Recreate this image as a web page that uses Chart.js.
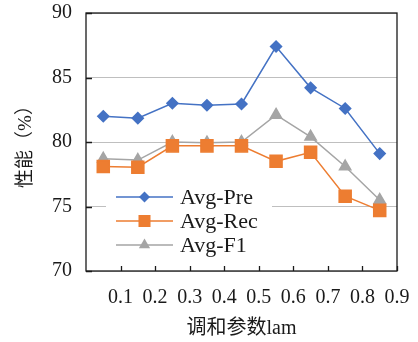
<!DOCTYPE html>
<html>
<head>
<meta charset="utf-8">
<script src="https://cdn.jsdelivr.net/npm/chart.js@4/dist/chart.umd.min.js"></script>
<style>
  html, body { margin: 0; padding: 0; background: #fff; }
  #wrap { width: 418px; height: 342px; }
</style>
</head>
<body>
<div id="wrap"><canvas id="chart" width="418" height="342"></canvas></div>
<script>
const lam = [0.05, 0.15, 0.25, 0.35, 0.45, 0.55, 0.65, 0.75, 0.85];
const avgPre = [82.0, 81.85, 83.0, 82.85, 82.95, 87.4, 84.2, 82.6, 79.1];
const avgRec = [78.1, 78.05, 79.7, 79.7, 79.7, 78.5, 79.2, 75.8, 74.7];
const avgF1 = [78.7, 78.6, 80.0, 79.95, 80.0, 82.1, 80.4, 78.1, 75.5];
const xTickLabels = ['0.1', '0.2', '0.3', '0.4', '0.5', '0.6', '0.7', '0.8', '0.9'];
const yTicks = [70, 75, 80, 85, 90];

const serif = "'Liberation Serif', 'Noto Sans CJK SC', serif";

const toPoints = (vals) => vals.map((v, i) => ({ x: lam[i], y: v }));

// 边框、内向刻度和图例（画在绘图区里）
const frame = {
    id: 'frame',
    afterDraw(chart) {
        const { ctx, chartArea: a, scales } = chart;
        ctx.save();
        ctx.strokeStyle = '#1a1a1a';
        ctx.lineWidth = 1.3;
        ctx.beginPath();
        xTickLabels.forEach((_, i) => {
            const px = Math.round(scales.x.getPixelForValue((i + 1) / 10)) + 0.5;
            ctx.moveTo(px, a.bottom);
            ctx.lineTo(px, a.bottom - 5);
        });
        yTicks.forEach(t => {
            const py = Math.round(scales.y.getPixelForValue(t)) + 0.5;
            ctx.moveTo(a.left, py);
            ctx.lineTo(a.left + 6, py);
        });
        ctx.stroke();
        ctx.strokeRect(a.left, a.top, a.right - a.left, a.bottom - a.top);
        ctx.restore();
    },
    afterDatasetsDraw(chart) {
        const { ctx } = chart;
        ctx.save();
        ctx.fillStyle = '#fff';
        ctx.fillRect(106, 184, 166, 72);
        chart.data.datasets.forEach((ds, i) => {
            const y = 197 + i * 24;
            ctx.strokeStyle = ds.borderColor;
            ctx.lineWidth = ds.borderWidth;
            ctx.beginPath();
            ctx.moveTo(116, y);
            ctx.lineTo(173, y);
            ctx.stroke();
            ctx.fillStyle = ds.pointBackgroundColor;
            ctx.strokeStyle = ds.pointBorderColor;
            Chart.helpers.drawPoint(ctx, {
                pointStyle: ds.pointStyle, radius: ds.pointRadius, rotation: 0, borderWidth: 0
            }, 144.5, y);
            ctx.fillStyle = '#1a1a1a';
            ctx.font = "22px " + serif;
            ctx.textBaseline = 'middle';
            ctx.fillText(ds.label, 180, y + 1);
        });
        ctx.restore();
    }
};

new Chart(document.getElementById('chart'), {
    type: 'line',
    data: {
        datasets: [{
            label: 'Avg-Pre',
            data: toPoints(avgPre),
            borderColor: '#4472C4',
            backgroundColor: '#4472C4',
            pointBackgroundColor: '#4472C4',
            pointBorderColor: '#4472C4',
            pointStyle: 'rectRot',
            pointRadius: 5.5,
            borderWidth: 1.5
        }, {
            label: 'Avg-Rec',
            data: toPoints(avgRec),
            borderColor: '#ED7D31',
            backgroundColor: '#ED7D31',
            pointBackgroundColor: '#ED7D31',
            pointBorderColor: '#ED7D31',
            pointStyle: 'rect',
            pointRadius: 8.5,
            borderWidth: 1.5
        }, {
            label: 'Avg-F1',
            data: toPoints(avgF1),
            borderColor: '#A5A5A5',
            backgroundColor: '#A5A5A5',
            pointBackgroundColor: '#A5A5A5',
            pointBorderColor: '#A5A5A5',
            pointStyle: 'triangle',
            pointRadius: 6.5,
            borderWidth: 1.5
        }]
    },
    options: {
        responsive: false,
        animation: false,
        layout: { padding: { left: 0, top: 13, right: 21, bottom: 0 } },
        elements: { line: { tension: 0 }, point: { borderWidth: 0 } },
        plugins: { legend: { display: false }, tooltip: { enabled: false } },
        scales: {
            x: {
                type: 'linear',
                min: 0,
                max: 0.9,
                afterFit: s => { s.height = 71; s.paddingLeft = 0; s.paddingRight = 0; },
                grid: { display: false },
                border: { display: false },
                ticks: {
                    stepSize: 0.1,
                    autoSkip: false,
                    maxRotation: 0,
                    padding: 7,
                    color: '#1a1a1a',
                    font: { family: serif, size: 20 },
                    callback: v => {
                        const i = Math.round(v * 10) - 1;
                        return i >= 0 ? xTickLabels[i] : '';
                    }
                },
                title: {
                    display: true,
                    text: '调和参数lam',
                    color: '#1a1a1a',
                    font: { family: serif, size: 20 },
                    padding: { top: 2, bottom: 1 }
                }
            },
            y: {
                min: 70,
                max: 90,
                afterFit: s => { s.width = 86; s.paddingTop = 0; s.paddingBottom = 0; },
                grid: { color: '#BFBFBF', lineWidth: 1, drawTicks: false },
                border: { display: false },
                ticks: {
                    stepSize: 5,
                    padding: 14,
                    color: '#1a1a1a',
                    font: { family: serif, size: 20 }
                },
                title: {
                    display: true,
                    text: '性能（%）',
                    color: '#1a1a1a',
                    font: { family: serif, size: 19 },
                    padding: { top: 15, bottom: 0 }
                }
            }
        }
    },
    plugins: [frame]
});
</script>
</body>
</html>
